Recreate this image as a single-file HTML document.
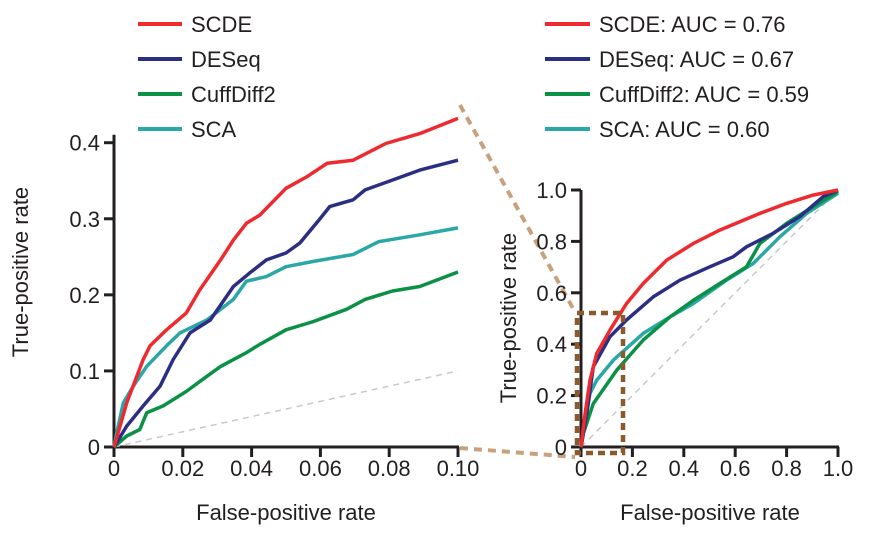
<!DOCTYPE html>
<html><head><meta charset="utf-8"><style>
body{margin:0;background:#fff}
svg{display:block;font-family:"Liberation Sans",Arial,sans-serif}
</style></head><body>
<svg id="c" width="889" height="533"></svg>
<script>
const seriesNames=["SCDE","DESeq","CuffDiff2","SCA"];
const colors=["#ee2a2e","#2b2e83","#0a9146","#2aa7a6"];
const aucLabels=["SCDE: AUC = 0.76","DESeq: AUC = 0.67","CuffDiff2: AUC = 0.59","SCA: AUC = 0.60"];
const leftXTicks=[0,0.02,0.04,0.06,0.08,0.10];
const leftXTickLabels=["0","0.02","0.04","0.06","0.08","0.10"];
const leftYTicks=[0,0.1,0.2,0.3,0.4];
const leftYTickLabels=["0","0.1","0.2","0.3","0.4"];
const rightTicks=[0,0.2,0.4,0.6,0.8,1.0];
const rightTickLabels=["0","0.2","0.4","0.6","0.8","1.0"];
const leftSCDE=[[0,0],[.0037,.058],[.0085,.115],[.0105,.133],[.0153,.154],[.021,.176],[.025,.207],[.031,.246],[.0347,.272],[.0385,.294],[.0424,.305],[.05,.34],[.056,.355],[.062,.373],[.0695,.377],[.079,.399],[.0889,.412],[.1,.432]];
const leftDESeq=[[0,0],[.0037,.0275],[.0085,.054],[.0134,.08],[.0172,.115],[.0221,.15],[.028,.167],[.0347,.211],[.0395,.229],[.0443,.246],[.05,.255],[.054,.268],[.0597,.299],[.0627,.316],[.0695,.325],[.073,.338],[.081,.351],[.0889,.364],[.1,.377]];
const leftCuff=[[0,0],[.0037,.0144],[.0075,.023],[.0095,.045],[.0143,.054],[.021,.073],[.027,.093],[.031,.106],[.0385,.124],[.0424,.135],[.05,.154],[.058,.165],[.0676,.181],[.073,.194],[.081,.205],[.0889,.211],[.1,.23]];
const leftSCA=[[0,0],[.0008,.019],[.0027,.058],[.0056,.08],[.0095,.106],[.0153,.133],[.0192,.15],[.027,.167],[.0347,.194],[.0385,.218],[.0443,.224],[.05,.237],[.058,.244],[.0695,.253],[.077,.27],[.0889,.279],[.1,.288]];
const rightSCDE=[[0,0],[.016,.13],[.035,.26],[.061,.364],[.113,.455],[.177,.558],[.242,.636],[.333,.727],[.437,.792],[.54,.844],[.696,.909],[.8,.948],[.903,.98],[1,1]];
const rightDESeq=[[0,0],[.022,.13],[.048,.312],[.113,.429],[.177,.494],[.281,.584],[.385,.649],[.501,.701],[.592,.74],[.644,.779],[.747,.831],[.851,.896],[.942,.974],[1,1]];
const rightCuff=[[0,0],[.009,.052],[.048,.169],[.139,.299],[.242,.416],[.346,.506],[.437,.571],[.54,.636],[.644,.701],[.696,.792],[.8,.87],[.903,.935],[1,.994]];
const rightSCA=[[0,0],[.035,.208],[.061,.26],[.126,.338],[.242,.442],[.346,.506],[.437,.558],[.566,.649],[.67,.714],[.774,.818],[.878,.909],[1,.987]];

const svg=document.getElementById('c');
const NS="http://www.w3.org/2000/svg";
function mk(tag,attrs,parent,text){const e=document.createElementNS(NS,tag);for(const k in attrs)e.setAttribute(k,attrs[k]);if(text!==undefined)e.textContent=text;(parent||svg).appendChild(e);return e;}
const L={x0:114,x1:458,y0:447,y1:142.7,xmax:0.1,ymax:0.4};
const R={x0:581,x1:838,y0:447,y1:190,xmax:1,ymax:1};
function sx(p,v){return p.x0+(p.x1-p.x0)*v/p.xmax;}
function sy(p,v){return p.y0-(p.y0-p.y1)*v/p.ymax;}
function pathD(p,pts){return pts.map((q,i)=>(i?'L':'M')+sx(p,q[0]).toFixed(1)+','+sy(p,q[1]).toFixed(1)).join('');}

let e=mk('line',{x1:460,y1:105,x2:575,y2:312,stroke:'#c8a07c','stroke-width':4,'stroke-dasharray':'8,6'});


e=mk('line',{x1:460,y1:448,x2:575,y2:457,stroke:'#c8a07c','stroke-width':4,'stroke-dasharray':'8,6'});



function axes(p,xt,xl,yt,yl,name){
  const g=mk('g',{});
  
  
  mk('line',{x1:p.x0,y1:p.y0,x2:p.x1+1,y2:p.y0,stroke:'#231f20','stroke-width':3},g);
  mk('line',{x1:p.x0,y1:p.y0+1,x2:p.x0,y2:Math.min(p.y1,sy(p,yt[yt.length-1]))-8*(name==='left'),stroke:'#231f20','stroke-width':3},g);
  xt.forEach((v,i)=>{const x=sx(p,v);mk('line',{x1:x,y1:p.y0,x2:x,y2:p.y0+10,stroke:'#231f20','stroke-width':3},g);
    const t=mk('text',{x:x,y:p.y0+29,'text-anchor':'middle','font-size':22,fill:'#231f20'},g,xl[i]);
    
    });
  yt.forEach((v,i)=>{const y=sy(p,v);mk('line',{x1:p.x0-10,y1:y,x2:p.x0,y2:y,stroke:'#231f20','stroke-width':3},g);
    const t=mk('text',{x:p.x0-14,y:y+8,'text-anchor':'end','font-size':22,fill:'#231f20'},g,yl[i]);
    
    });
}
axes(L,leftXTicks,leftXTickLabels,leftYTicks,leftYTickLabels,'left');
axes(R,rightTicks,rightTickLabels,rightTicks,rightTickLabels,'right');

e=mk('line',{x1:sx(L,0),y1:sy(L,0),x2:sx(L,0.1),y2:sy(L,0.1),stroke:'#c8c8c8','stroke-width':1.5,'stroke-dasharray':'6,5'});


e=mk('line',{x1:sx(R,0),y1:sy(R,0),x2:sx(R,1),y2:sy(R,1),stroke:'#c8c8c8','stroke-width':1.5,'stroke-dasharray':'6,5'});



const leftData=[leftSCDE,leftDESeq,leftCuff,leftSCA];
const rightData=[rightSCDE,rightDESeq,rightCuff,rightSCA];
[3,2,1,0].forEach(i=>{
  let p=mk('path',{d:pathD(L,leftData[i]),fill:'none',stroke:colors[i],'stroke-width':3.5,'stroke-linejoin':'round'});
  
  
  p=mk('path',{d:pathD(R,rightData[i]),fill:'none',stroke:colors[i],'stroke-width':3.5,'stroke-linejoin':'round'});
  
  
});

e=mk('rect',{x:577,y:313,width:46,height:140,fill:'none',stroke:'#8b5a2b','stroke-width':4.5,'stroke-dasharray':'7,5'});



seriesNames.forEach((n,i)=>{
  const y=24+i*35;
  const g=mk('g',{});
  
  
  mk('line',{x1:138,y1:y,x2:182,y2:y,stroke:colors[i],'stroke-width':4},g);
  mk('text',{x:191,y:y+8,'font-size':22,fill:'#231f20'},g,n);
  const g2=mk('g',{});
  
  
  mk('line',{x1:545,y1:y,x2:590,y2:y,stroke:colors[i],'stroke-width':4},g2);
  mk('text',{x:599,y:y+8,'font-size':22,fill:'#231f20'},g2,aucLabels[i]);
});

function label(x,y,txt,rot,name){const t=mk('text',{x:x,y:y,'text-anchor':'middle','font-size':22,fill:'#231f20',transform:rot?`rotate(-90 ${x} ${y})`:''},svg,txt);
  
  }
label(286,520,'False-positive rate',false,'left-x-axis-title');
label(710,520,'False-positive rate',false,'right-x-axis-title');
label(28,272,'True-positive rate',true,'left-y-axis-title');
label(516,318,'True-positive rate',true,'right-y-axis-title');
</script>
</body></html>
